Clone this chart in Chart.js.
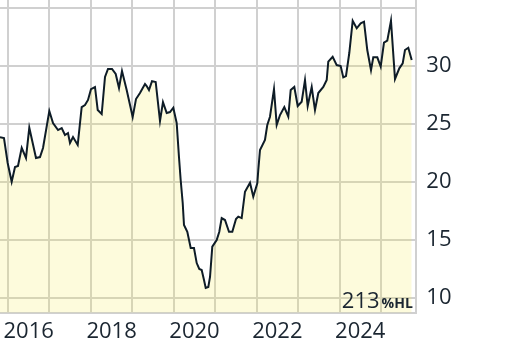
<!DOCTYPE html>
<html>
<head>
<meta charset="utf-8">
<script src="https://cdn.jsdelivr.net/npm/chart.js@4/dist/chart.umd.min.js"></script>
<style>
html,body{margin:0;padding:0;background:#fff;}
canvas{display:block;}
</style>
</head>
<body>
<canvas id="c" width="512" height="346"></canvas>
<script>
// Time positions in decimal years
const dates = [2015.807,2015.903,2015.992,2016.089,2016.169,2016.241,2016.331,2016.434,2016.514,2016.676,2016.772,2016.845,2016.997,2017.086,2017.207,2017.296,2017.375,2017.448,2017.496,2017.569,2017.682,2017.778,2017.858,2017.931,2018.003,2018.099,2018.165,2018.261,2018.341,2018.413,2018.510,2018.599,2018.679,2018.751,2018.864,2019.009,2019.089,2019.185,2019.306,2019.346,2019.402,2019.475,2019.564,2019.668,2019.740,2019.830,2019.909,2019.989,2020.071,2020.126,2020.167,2020.216,2020.247,2020.327,2020.409,2020.488,2020.554,2020.616,2020.674,2020.730,2020.771,2020.834,2020.875,2020.930,2021.036,2021.099,2021.157,2021.236,2021.333,2021.413,2021.502,2021.557,2021.639,2021.719,2021.840,2021.919,2022.016,2022.040,2022.081,2022.201,2022.257,2022.322,2022.419,2022.484,2022.564,2022.668,2022.764,2022.822,2022.909,2022.991,2023.087,2023.167,2023.232,2023.329,2023.408,2023.488,2023.609,2023.691,2023.729,2023.835,2023.932,2024.028,2024.091,2024.156,2024.236,2024.318,2024.415,2024.511,2024.591,2024.670,2024.760,2024.815,2024.912,2024.994,2025.073,2025.153,2025.242,2025.339,2025.443,2025.525,2025.580,2025.660,2025.742];
// Price values
const prices = [23.81,23.75,21.6,19.98,21.25,21.34,22.91,22.03,24.64,22.03,22.11,22.89,26.08,25.04,24.44,24.61,24.01,24.18,23.32,23.84,23.15,26.42,26.59,27.03,27.97,28.15,26.16,25.82,29.01,29.70,29.70,29.27,28.06,29.53,27.89,25.56,27.11,27.63,28.41,28.23,27.89,28.66,28.58,25.22,26.85,25.91,25.99,26.36,25.04,22.11,20.13,18.15,16.25,15.67,14.27,14.27,12.97,12.46,12.37,11.51,10.82,10.91,11.77,14.38,14.96,15.67,16.85,16.68,15.67,15.67,16.77,16.97,16.85,19.12,19.90,18.69,19.84,20.99,22.72,23.58,24.87,25.59,27.97,24.87,25.73,26.42,25.59,27.89,28.15,26.51,26.88,28.75,26.51,28.15,26.16,27.63,28.15,28.75,30.33,30.76,30.04,29.96,28.98,29.09,31.08,33.86,33.21,33.64,33.78,31.34,29.61,30.71,30.71,29.90,31.97,32.14,33.86,28.84,29.76,30.19,31.34,31.53,30.47];
// Tick definitions
const yearTicks = [2016,2017,2018,2019,2020,2021,2022,2023,2024,2025];
const yearLabels = ['2016','','2018','','2020','','2022','','2024',''];
const valueTicks = [10,15,20,25,30,35];
const valueLabels = ['10','15','20','25','30',''];
const noteMain = '213';
const noteUnit = '%HL';

const points = dates.map((d,i)=>({x:d,y:prices[i]}));
const FONT = "'Open Sans', 'Noto Sans', sans-serif";
const TXT = '#1b2631';
const GRID = '#d0d0d0';

function zeroPad(s){ s.paddingLeft = 0; s.paddingRight = 0; s.paddingTop = 0; s.paddingBottom = 0; }

const notePlugin = {
  id:'note',
  afterDatasetsDraw(chart){
    const ctx = chart.ctx, a = chart.chartArea;
    ctx.save();
    ctx.fillStyle = TXT;
    ctx.textBaseline = 'alphabetic';
    ctx.textAlign = 'right';
    const xr = a.right - 3.5, yb = a.bottom - 5;
    ctx.font = "bold 14px " + FONT;
    const w = ctx.measureText(noteUnit).width;
    ctx.fillText(noteUnit, xr, yb);
    ctx.font = "22px " + FONT;
    ctx.fillText(noteMain, xr - w - 2, yb);
    ctx.restore();
  }
};

new Chart(document.getElementById('c'), {
  type:'line',
  data:{datasets:[{
    data:points,
    borderColor:'#0e1c27',
    borderWidth:2,
    backgroundColor:'rgba(245,235,80,0.2)',
    fill:'start',
    pointRadius:0,
    tension:0
  }]},
  options:{
    responsive:false,
    animation:false,
    devicePixelRatio:1,
    layout:{padding:0},
    plugins:{legend:{display:false},tooltip:{enabled:false}},
    scales:{
      x:{
        type:'linear',
        min:2015.807, max:2025.853,
        afterBuildTicks(s){ s.ticks = yearTicks.map(v=>({value:v})); },
        afterFit(s){ s.height = 33.3; zeroPad(s); },
        grid:{color:GRID, lineWidth:2, drawTicks:false},
        border:{color:GRID, width:2},
        ticks:{
          autoSkip:false, maxRotation:0, padding:6,
          labelOffset:20.7,
          color:TXT, font:{family:FONT, size:22},
          callback(v){ const i = yearTicks.indexOf(v); return i>=0 ? yearLabels[i] : ''; }
        }
      },
      y:{
        type:'linear', position:'right',
        min:8.69, max:35.65,
        afterBuildTicks(s){ s.ticks = valueTicks.map(v=>({value:v})); },
        afterFit(s){ s.width = 95.7; zeroPad(s); },
        grid:{color:GRID, lineWidth:2, drawTicks:false},
        border:{color:GRID, width:2},
        ticks:{
          padding:10,
          color:TXT, font:{family:FONT, size:22},
          callback(v){ const i = valueTicks.indexOf(v); return i>=0 ? valueLabels[i] : ''; }
        }
      }
    }
  },
  plugins:[notePlugin]
});
</script>
</body>
</html>
